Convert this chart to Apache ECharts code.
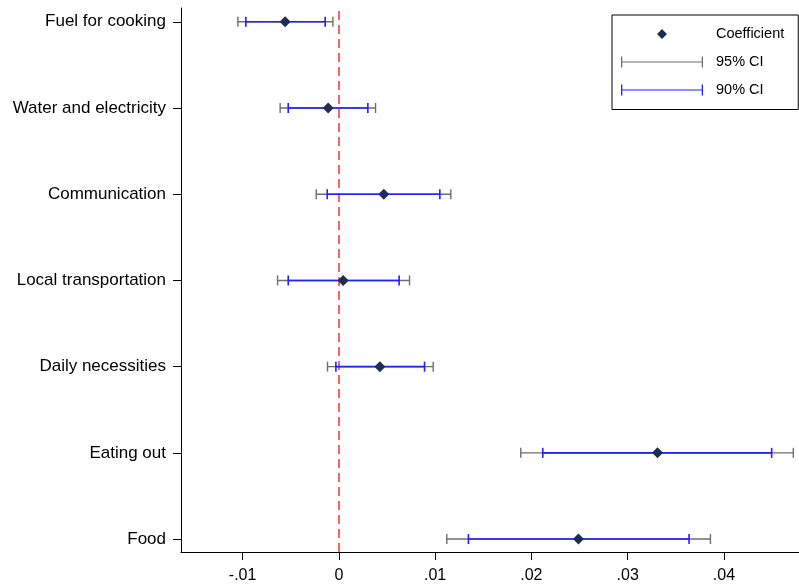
<!DOCTYPE html>
<html>
<head>
<meta charset="utf-8">
<script src="https://cdn.jsdelivr.net/npm/echarts@6/dist/echarts.min.js"></script>
<style>
  html, body { margin: 0; padding: 0; background: #fff; }
  #chart { width: 799px; height: 586px; }
</style>
</head>
<body>
<div id="chart"></div>
<script>
// Outcome categories, top to bottom
const categories = ['Fuel for cooking', 'Water and electricity', 'Communication', 'Local transportation', 'Daily necessities', 'Eating out', 'Food'];
const coef = [-0.00558, -0.00111, 0.00467, 0.00045, 0.00426, 0.0331, 0.02489];
const ci95Low = [-0.01049, -0.0061, -0.00235, -0.00637, -0.00118, 0.0189, 0.01121];
const ci95High = [-0.00062, 0.00381, 0.01163, 0.00734, 0.0098, 0.04721, 0.0386];
const ci90Low = [-0.00966, -0.00526, -0.00121, -0.00526, -0.00031, 0.02118, 0.01346];
const ci90High = [-0.00142, 0.00301, 0.01049, 0.00626, 0.0089, 0.04496, 0.03638];
const xTicks = [-0.01, 0, 0.01, 0.02, 0.03, 0.04];

const n = categories.length;
const yPos = categories.map((c, i) => n - i);
const font = '"Liberation Sans", Arial, Helvetica, sans-serif';

// legend icons sized 82 x 11 so they are not stretched
const barIcon = 'path://M0,0H1.3V4.9H80.7V0H82V11H80.7V6.1H1.3V11H0Z';
const diamondIcon = 'path://M0,0h0.001v0.001h-0.001Z M82,11h-0.001v-0.001h0.001Z M41,0.5L46,5.5L41,10.5L36,5.5Z';

function ciRenderer(lineWidth) {
    return function(params, api) {
        const y = api.value(2);
        const p1 = api.coord([api.value(0), y]);
        const p2 = api.coord([api.value(1), y]);
        const h = 5;
        const style = { stroke: api.visual('color'), lineWidth: lineWidth, fill: null };
        return {
            type: 'group',
            children: [
                { type: 'line', shape: { x1: p1[0], y1: p1[1], x2: p2[0], y2: p2[1] }, style: style },
                { type: 'line', shape: { x1: p1[0], y1: p1[1] - h, x2: p1[0], y2: p1[1] + h }, style: style },
                { type: 'line', shape: { x1: p2[0], y1: p2[1] - h, x2: p2[0], y2: p2[1] + h }, style: style }
            ]
        };
    };
}

const chart = echarts.init(document.getElementById('chart'));
const option = {
    animation: false,
    textStyle: { fontFamily: font },
    grid: { left: 181, right: 0, top: 8, bottom: 34, containLabel: false },
    legend: {
        orient: 'vertical',
        left: 612,
        top: 15,
        padding: [11.5, 14, 12, 9],
        itemWidth: 82,
        itemHeight: 11,
        itemGap: 13,
        borderColor: '#000',
        borderWidth: 1,
        selectedMode: false,
        textStyle: { fontSize: 14.5, color: '#000', fontFamily: font, padding: [0, 0, 0, 8] },
        data: [
            { name: 'Coefficient', icon: diamondIcon },
            { name: '95% CI', icon: barIcon },
            { name: '90% CI', icon: barIcon }
        ]
    },
    xAxis: {
        type: 'value',
        min: -0.0164,
        max: 0.0478,
        axisLine: { show: true, onZero: false, lineStyle: { color: '#000', width: 1 } },
        axisTick: { show: true, length: 8, customValues: xTicks, lineStyle: { color: '#000' } },
        axisLabel: {
            customValues: xTicks,
            margin: 16,
            fontSize: 16,
            color: '#000',
            fontFamily: font,
            formatter: function(v) {
                if (Math.abs(v) < 1e-9) return '0';
                return (v < 0 ? '-' : '') + Math.abs(v).toFixed(2).replace(/^0/, '');
            }
        },
        splitLine: { show: false }
    },
    yAxis: {
        type: 'value',
        min: 0.85,
        max: 7.16,
        axisLine: { show: true, onZero: false, lineStyle: { color: '#000', width: 1 } },
        axisTick: { show: true, length: 8, customValues: yPos, lineStyle: { color: '#000' } },
        axisLabel: {
            customValues: yPos,
            margin: 15,
            fontSize: 17,
            color: '#000',
            fontFamily: font,
            padding: [3, 0, 0, 0],
            formatter: function(v) {
                return categories[n - Math.round(v)] || '';
            }
        },
        splitLine: { show: false }
    },
    series: [
        {
            name: '95% CI',
            type: 'custom',
            z: 2,
            itemStyle: { color: '#6e6e6e' },
            renderItem: ciRenderer(1.4),
            encode: { x: [0, 1], y: 2 },
            data: categories.map((c, i) => [ci95Low[i], ci95High[i], yPos[i]]),
            markLine: {
                silent: true,
                z: 1,
                symbol: ['none', 'none'],
                label: { show: false },
                lineStyle: { color: '#ff3b3b', width: 1.6, type: [9, 5] },
                data: [{ xAxis: 0 }]
            }
        },
        {
            name: '90% CI',
            type: 'custom',
            z: 3,
            itemStyle: { color: '#1f1fff' },
            renderItem: ciRenderer(1.6),
            encode: { x: [0, 1], y: 2 },
            data: categories.map((c, i) => [ci90Low[i], ci90High[i], yPos[i]])
        },
        {
            name: 'Coefficient',
            type: 'scatter',
            z: 4,
            symbol: 'diamond',
            symbolSize: 11,
            itemStyle: { color: '#1c2e52', opacity: 1 },
            data: categories.map((c, i) => [coef[i], yPos[i]])
        }
    ]
};
chart.setOption(option);
</script>
</body>
</html>
